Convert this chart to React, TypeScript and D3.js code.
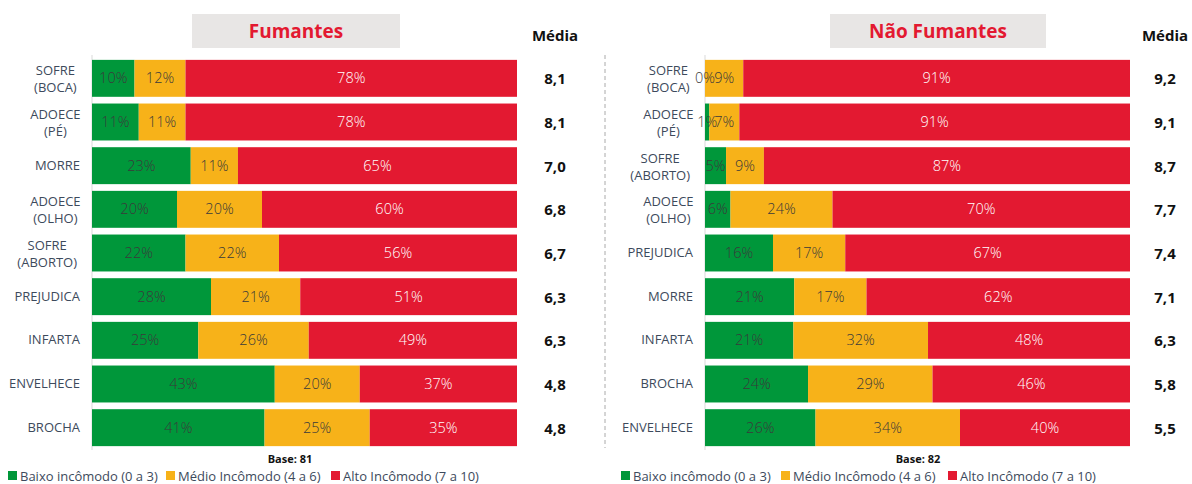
import React from "react";
import * as d3 from "d3";

const smokerCats = [["SOFRE", "(BOCA)"], ["ADOECE", "(PÉ)"], ["MORRE"], ["ADOECE", "(OLHO)"], ["SOFRE", "(ABORTO)"], ["PREJUDICA"], ["INFARTA"], ["ENVELHECE"], ["BROCHA"]];
const smokerLow = [10, 11, 23, 20, 22, 28, 25, 43, 41];
const smokerMid = [12, 11, 11, 20, 22, 21, 26, 20, 25];
const smokerHigh = [78, 78, 65, 60, 56, 51, 49, 37, 35];
const smokerMean = ["8,1", "8,1", "7,0", "6,8", "6,7", "6,3", "6,3", "4,8", "4,8"];

const nonCats = [["SOFRE", "(BOCA)"], ["ADOECE", "(PÉ)"], ["SOFRE", "(ABORTO)"], ["ADOECE", "(OLHO)"], ["PREJUDICA"], ["MORRE"], ["INFARTA"], ["BROCHA"], ["ENVELHECE"]];
const nonLow = [0, 1, 5, 6, 16, 21, 21, 24, 26];
const nonMid = [9, 7, 9, 24, 17, 17, 32, 29, 34];
const nonHigh = [91, 91, 87, 70, 67, 62, 48, 46, 40];
const nonMean = ["9,2", "9,1", "8,7", "7,7", "7,4", "7,1", "6,3", "5,8", "5,5"];

const legendLabels = ["Baixo incômodo (0 a 3)", "Médio Incômodo (4 a 6)", "Alto Incômodo (7 a 10)"];
const COLORS = ["#00973A", "#F7B219", "#E31931"];
const TEXT_COLORS = ["#3a3a3a", "#3a3a3a", "#ffffff"];
const FONT = "'Open Sans', 'Noto Sans', sans-serif";

type PanelProps = {
  x0: number;
  title: string;
  titleBox: [number, number];
  cats: string[][];
  low: number[];
  mid: number[];
  high: number[];
  means: string[];
  meanX: number;
  base: string;
  baseX: number;
  legendX: number[];
};

function Panel(p: PanelProps) {
  const x = d3.scaleLinear().domain([0, 1]).range([p.x0, p.x0 + 425]);
  const y = d3.scaleBand<number>().domain(d3.range(p.cats.length)).range([55.5, 450.5]).paddingInner(0.154).paddingOuter(0.1);
  const rows = p.cats.map((c, i) => {
    const vals = [p.low[i], p.mid[i], p.high[i]];
    const tot = d3.sum(vals);
    let acc = 0;
    const segs = vals.map((v, k) => {
      const s = { k, v, a: acc / tot, b: (acc + v) / tot };
      acc += v;
      return s;
    });
    return { c, segs, i };
  });
  return (
    <g>
      <rect x={p.titleBox[0]} y={14} width={p.titleBox[1] - p.titleBox[0]} height={34} fill="#E8E6E5" />
      <text x={(p.titleBox[0] + p.titleBox[1]) / 2} y={38} textAnchor="middle" fill="#E31931" fontSize={19} fontWeight="bold" fontFamily={FONT}>{p.title}</text>
      <text x={p.meanX} y={41} textAnchor="middle" fill="#111" fontSize={15} fontWeight="bold" fontFamily={FONT}>Média</text>
      <line x1={p.x0} x2={p.x0} y1={55} y2={450} stroke="#d9d9d9" strokeWidth={1} />
      {rows.map(({ c, segs, i }) => {
        const yy = y(i)!;
        const h = y.bandwidth();
        const cy = yy + h / 2;
        const maxLen = d3.max(c, (s) => s.length)!;
        const cx = p.x0 - 12 - (maxLen * 8.2) / 2;
        return (
          <g key={i}>
            {segs.map((s) => (
              <rect key={s.k} x={x(s.a)} y={yy} width={Math.max(0, x(s.b) - x(s.a))} height={h} fill={COLORS[s.k]} />
            ))}
            {segs.map((s) => (
              <text key={"t" + s.k} x={(x(s.a) + x(s.b)) / 2} y={cy + 5} textAnchor="middle" fill={TEXT_COLORS[s.k]} fontSize={14.5} fontFamily={FONT} style={{ fontWeight: 300 }}>{s.v + "%"}</text>
            ))}
            {c.length === 1 ? (
              <text x={p.x0 - 12} y={cy + 4} textAnchor="end" fill="#3d4a5c" fontSize={13} fontFamily={FONT}>{c[0]}</text>
            ) : (
              c.map((line, li) => (
                <text key={li} x={cx} y={cy - 3 + li * 17} textAnchor="middle" fill="#3d4a5c" fontSize={13} fontFamily={FONT}>{line}</text>
              ))
            )}
            <text x={p.meanX} y={cy + 6} textAnchor="middle" fill="#111" fontSize={15} fontWeight="bold" fontFamily={FONT}>{p.means[i]}</text>
          </g>
        );
      })}
      <text x={p.baseX} y={463} textAnchor="middle" fill="#111" fontSize={11} fontWeight="bold" fontFamily={FONT}>{p.base}</text>
      {legendLabels.map((l, k) => (
        <g key={k}>
          <rect x={p.legendX[k]} y={471} width={9} height={9} fill={COLORS[k]} />
          <text x={p.legendX[k] + 12} y={480.5} fill="#3d4a5c" fontSize={13} fontFamily={FONT}>{l}</text>
        </g>
      ))}
    </g>
  );
}

export default function App() {
  return (
    <svg width={1192} height={484} style={{ position: "absolute", left: 0, top: 0, background: "#fff" }}>
      <rect width={1192} height={484} fill="#fff" />
      <Panel x0={92} title="Fumantes" titleBox={[192, 400]} cats={smokerCats} low={smokerLow} mid={smokerMid} high={smokerHigh} means={smokerMean} meanX={555} base="Base: 81" baseX={290} legendX={[8, 166, 331]} />
      <line x1={605} x2={605} y1={55} y2={448} stroke="#aaa" strokeDasharray="4,3" />
      <Panel x0={705} title="Não Fumantes" titleBox={[830, 1046]} cats={nonCats} low={nonLow} mid={nonMid} high={nonHigh} means={nonMean} meanX={1165} base="Base: 82" baseX={918} legendX={[621, 781, 948]} />
    </svg>
  );
}
